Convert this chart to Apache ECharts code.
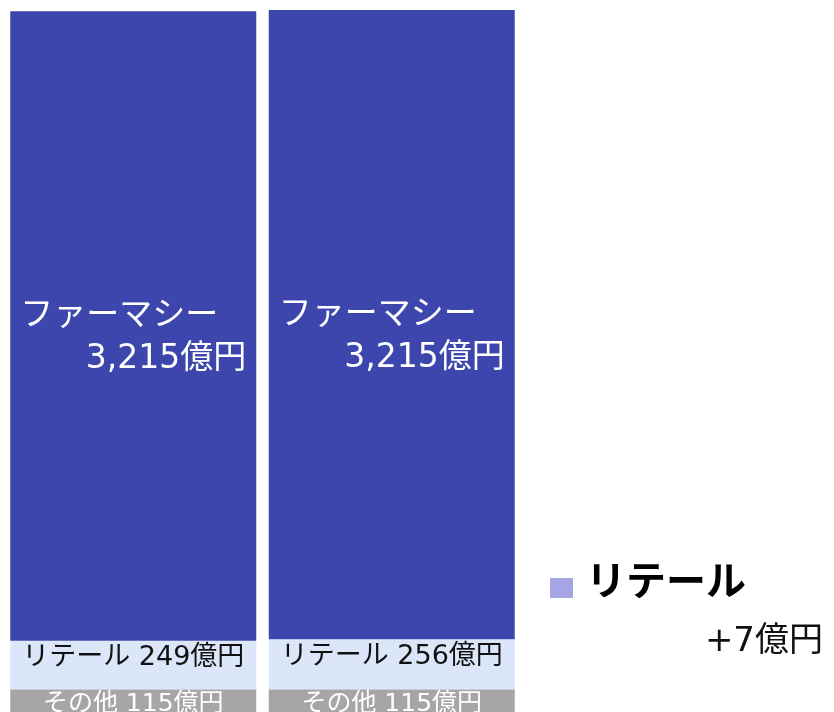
<!DOCTYPE html>
<html>
<head>
<meta charset="utf-8">
<script src="https://cdn.jsdelivr.net/npm/echarts@6/dist/echarts.min.js"></script>
<style>
  html, body { margin: 0; padding: 0; background: #fff; }
  #chart { width: 834px; height: 712px; }
</style>
</head>
<body>
<div id="chart"></div>
<script>
const categories = ["前期", "当期"];
const otherValues = [115, 115];
const retailValues = [249, 256];
const pharmacyValues = [3215, 3215];

const FONT = "'DejaVu Sans', 'Noto Sans CJK JP', sans-serif";
const fmt = (v) => v.toLocaleString("en-US");
const retailDiff = retailValues[1] - retailValues[0];

const chart = echarts.init(document.getElementById("chart"), null, { renderer: "canvas" });

chart.setOption({
  animation: false,
  backgroundColor: "#fff",
  textStyle: { fontFamily: FONT },
  grid: { left: 4, right: 313, top: 10, bottom: 0, containLabel: false },
  xAxis: { type: "category", data: categories, show: false },
  yAxis: { type: "value", min: 0, max: "dataMax", show: false },
  series: [
    {
      name: "その他",
      type: "bar",
      stack: "total",
      z: 5,
      barWidth: 246,
      data: otherValues,
      itemStyle: { color: "#a6a6a6" },
      label: {
        show: true,
        position: "inside",
        offset: [0, 4],
        color: "#fff",
        fontSize: 25,
        fontFamily: FONT,
        formatter: (p) => `その他 ${fmt(p.value)}億円`,
      },
    },
    {
      name: "リテール",
      type: "bar",
      stack: "total",
      data: retailValues,
      itemStyle: { color: "#dce6f9" },
      label: {
        show: true,
        position: "inside",
        offset: [0, -7],
        color: "#111",
        fontSize: 27,
        fontFamily: FONT,
        formatter: (p) => `リテール ${fmt(p.value)}億円`,
      },
    },
    {
      name: "ファーマシー",
      type: "bar",
      stack: "total",
      data: pharmacyValues,
      itemStyle: { color: "#3c46ad" },
      label: {
        show: true,
        position: "inside",
        offset: [0, 12],
        formatter: (p) => `{a|ファーマシー}\n{b|${fmt(p.value)}億円}`,
        rich: {
          a: { width: 226, align: "left", color: "#fff", fontSize: 33, lineHeight: 43, fontFamily: FONT },
          b: { width: 226, align: "right", color: "#fff", fontSize: 33, lineHeight: 43, fontFamily: FONT },
        },
      },
    },
  ],
  graphic: [
    { type: "rect", left: 550, top: 578, shape: { width: 23, height: 20 }, style: { fill: "#a6a6e6" } },
    {
      type: "text", left: 586, top: 565,
      style: { text: "リテール", fill: "#000", font: `bold 40px ${FONT}` },
    },
    {
      type: "text", right: 11, top: 625,
      style: { text: `+${retailDiff}億円`, fill: "#111", font: `34px ${FONT}` },
    },
  ],
});
</script>
</body>
</html>
